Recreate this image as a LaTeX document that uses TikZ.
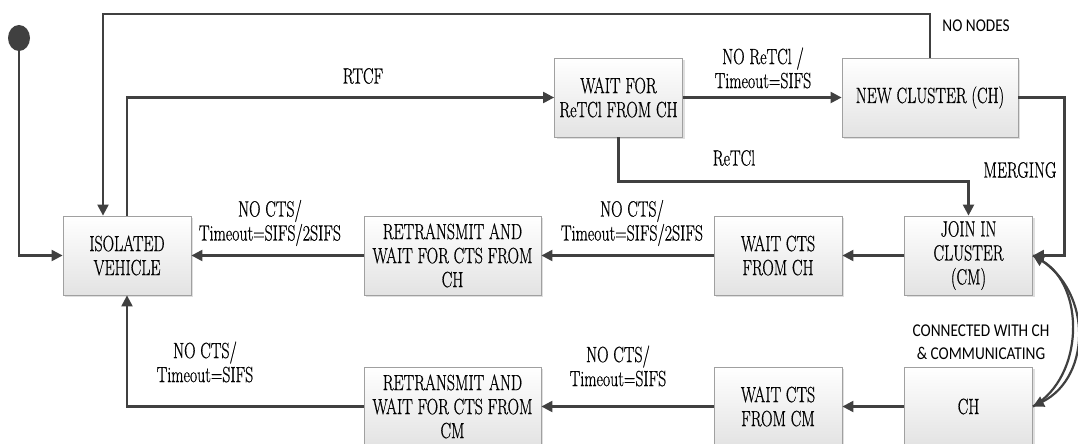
\documentclass[tikz,border=0pt]{standalone}
\usepackage{fontspec}
\newfontfamily\statefont[FakeStretch=0.72,FakeBold=0.6]{Latin Modern Roman}
\newfontfamily\labelsans[FakeStretch=0.85]{Carlito}
\usepackage{xcolor}
\usepackage{tikz}
\usetikzlibrary{positioning,shapes.geometric,arrows.meta,shadows}
\definecolor{darkline}{RGB}{64,64,64}
\definecolor{boxline}{RGB}{160,160,160}

\begin{document}
\begin{tikzpicture}[x=1pt, y=-1pt,
    state/.style={draw=boxline, line width=0.8pt, top color=white, bottom color=gray!22,
        drop shadow={shadow xshift=2pt, shadow yshift=-2pt, opacity=0.25, fill=gray},
        minimum width=128pt, minimum height=79pt, inner sep=2pt, align=center,
        font=\statefont\fontsize{22}{24}\selectfont},
    trans/.style={draw=darkline, line width=2.2pt, -{Triangle[length=11pt,width=11pt]}},
    lbl/.style={align=center, font=\statefont\fontsize{22}{24}\selectfont},
    sanslbl/.style={align=center, font=\labelsans\fontsize{18}{23}\selectfont}]
    \useasboundingbox (0,0) rectangle (1078,444);

    % states
    \node[fill=darkline, ellipse, minimum width=22pt, minimum height=26pt, inner sep=0pt] (start) at (19,38) {};
    \node[state] (iso) at (127,255.5) {ISOLATED\\VEHICLE};
    \node[state] (waitre) at (618.5,97.5) {WAIT FOR\\ReTCl FROM CH};
    \node[state, minimum width=176pt] (newch) at (930,97.5) {NEW CLUSTER (CH)};
    \node[state] (join) at (968.5,255.5) {JOIN IN\\CLUSTER\\(CM)};
    \node[state] (waitch) at (778,255.5) {WAIT CTS\\FROM CH};
    \node[state, minimum width=177pt] (retch) at (452.5,255.5) {RETRANSMIT AND\\WAIT FOR CTS FROM\\CH};
    \node[state] (chd) at (968.5,406.5) {CH};
    \node[state] (waitcm) at (778,406.5) {WAIT CTS\\FROM CM};
    \node[state, minimum width=177pt] (retcm) at (452.5,406.5) {RETRANSMIT AND\\WAIT FOR CTS FROM\\CM};

    % transitions
    \coordinate (toprail) at (0,14);
    \draw[trans] (start.south) |- (iso.west);
    \draw[trans] (newch.north) -- (newch.north |- toprail) -| ([xshift=-24pt]iso.north);
    \draw[trans] (iso.north) |- (waitre.west);
    \draw[trans] (waitre) -- (newch);
    \draw[trans] (waitre.south) -- ++(0,44) -| (join.north);
    \draw[trans] (newch.east) -- ++(46,0) |- (join.east);
    \draw[trans] (join) -- (waitch);
    \draw[trans] (waitch) -- (retch);
    \draw[trans] (retch) -- (iso);
    \draw[trans] (chd) -- (waitcm);
    \draw[trans] (waitcm) -- (retcm);
    \draw[trans] (retcm.west) -| (iso.south);
    \draw[trans] (join.east) .. controls +(60,30) and +(60,-30) .. (chd.east);
    \draw[trans] (chd.east) .. controls +(52,-30) and +(52,30) .. (join.east);

    % labels
    \node[sanslbl] (nonodes) at (976,26) {NO NODES};
    \node[lbl] (rtcf) at (363,76) {RTCF};
    \node[lbl] (noretcl) at (763,68) {NO ReTCl /\\Timeout=SIFS};
    \node[lbl] (retcl) at (734,158) {ReTCl};
    \node[lbl] (merging) at (1020,170) {MERGING};
    \node[lbl] (noctsa) at (632,223) {NO CTS/\\Timeout=SIFS/2SIFS};
    \node[lbl] (noctsb) at (270,223) {NO CTS/\\Timeout=SIFS/2SIFS};
    \node[lbl] (noctsc) at (618,366) {NO CTS/\\Timeout=SIFS};
    \node[lbl] (noctsd) at (205,362) {NO CTS/\\Timeout=SIFS};
    \node[sanslbl] (conn) at (981,342) {CONNECTED WITH CH\\\& COMMUNICATING};
\end{tikzpicture}
\end{document}
